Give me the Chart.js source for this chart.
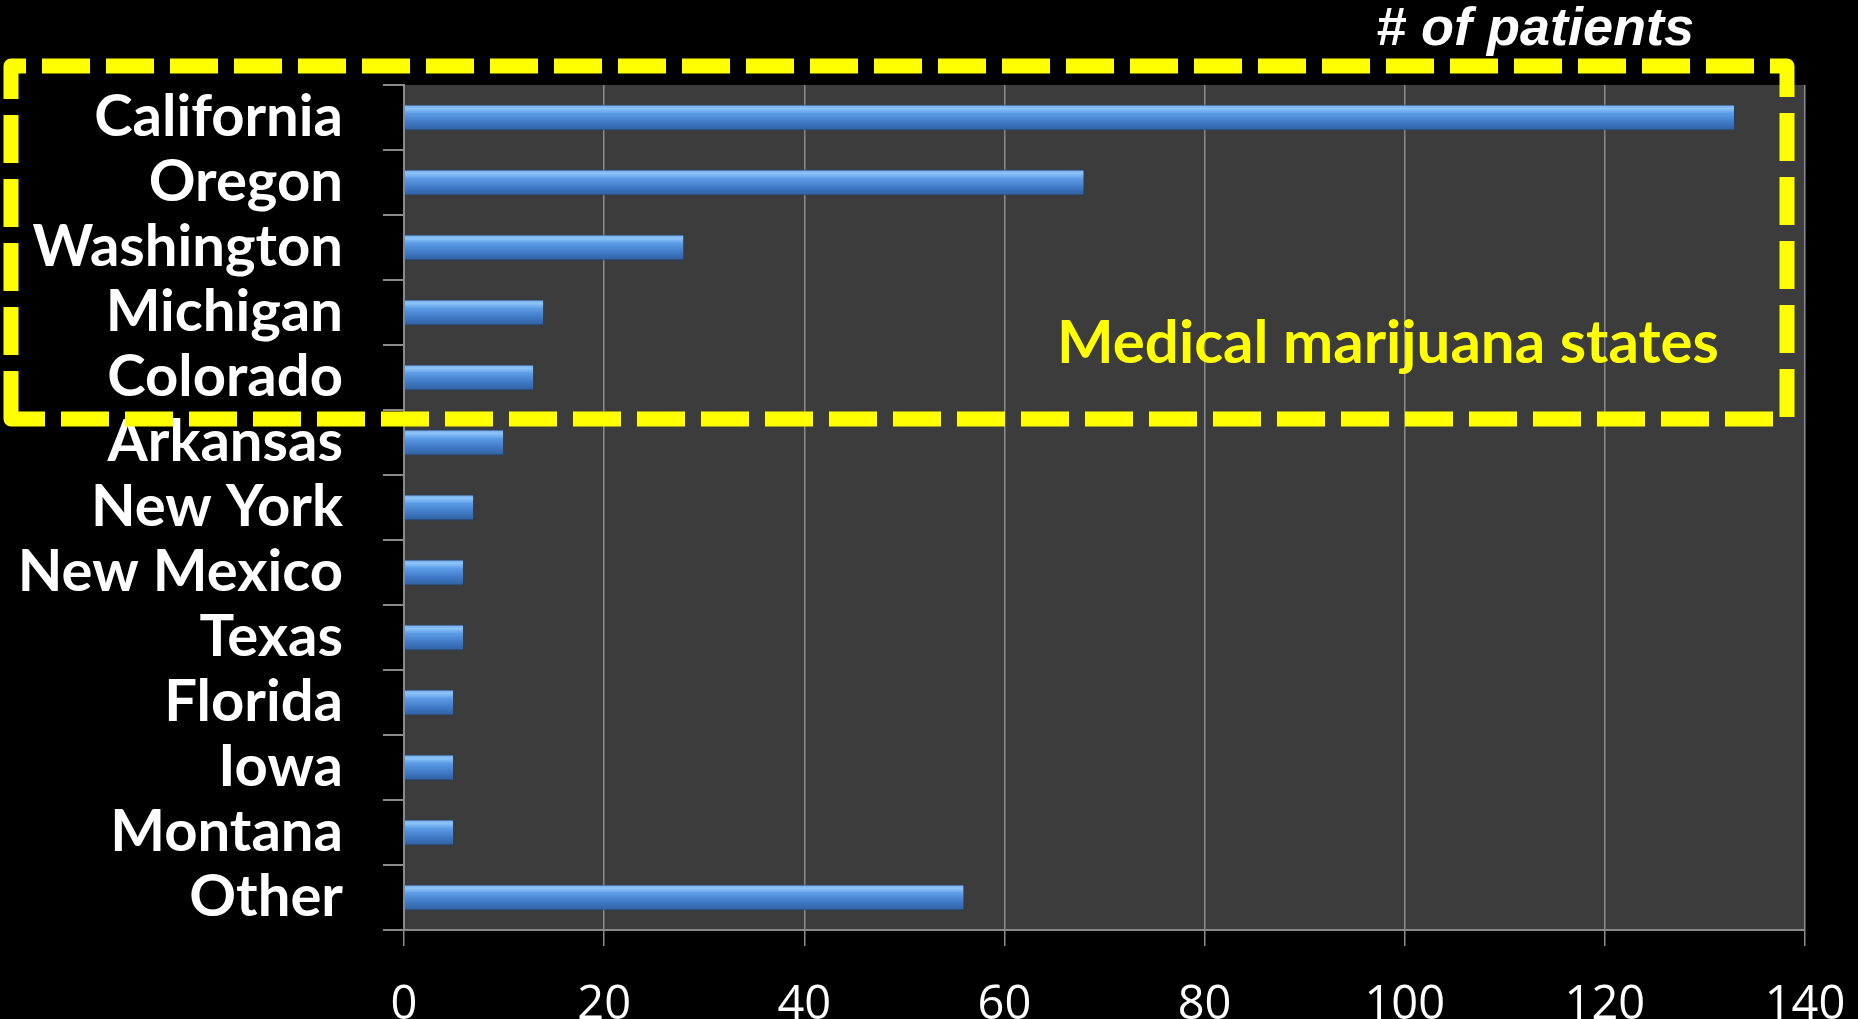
<!DOCTYPE html>
<html>
<head>
<meta charset="utf-8">
<script src="https://cdn.jsdelivr.net/npm/chart.js@4"></script>
<style>
  html, body { margin: 0; padding: 0; background: #000; }
  #wrap { width: 1858px; height: 1019px; position: relative; }
</style>
</head>
<body>
<div id="wrap"><canvas id="patientsChart"></canvas></div>
<script>
// Dados
const states = ['California', 'Oregon', 'Washington', 'Michigan', 'Colorado', 'Arkansas',
    'New York', 'New Mexico', 'Texas', 'Florida', 'Iowa', 'Montana', 'Other'];
const patients = [133, 68, 28, 14, 13, 10, 7, 6, 6, 5, 5, 5, 56];
const xTicks = [0, 20, 40, 60, 80, 100, 120, 140];
const axisTitle = '# of patients';
const boxLabel = 'Medical marijuana states';

// Gradiente de cada barra
function barFill(context) {
    const chart = context.chart;
    const y = chart.scales.y;
    if (!y || !chart.chartArea) return '#4a86d4';
    const c = y.getPixelForValue(context.dataIndex);
    const h = 13;
    const g = chart.ctx.createLinearGradient(0, c - h, 0, c + h);
    g.addColorStop(0, '#6fa8ec');
    g.addColorStop(0.15, '#8cc3f8');
    g.addColorStop(0.35, '#5b9be6');
    g.addColorStop(0.7, '#3f78c4');
    g.addColorStop(1, '#2f5f9f');
    return g;
}

// Fundo da área do gráfico
const plotBackground = {
    id: 'plotBackground',
    beforeDraw(chart) {
        const { ctx, chartArea: a } = chart;
        ctx.save();
        ctx.fillStyle = '#3c3c3c';
        ctx.fillRect(a.left, a.top, a.right - a.left, a.bottom - a.top);
        ctx.restore();
    }
};

// Caixa tracejada e textos
const overlay = {
    id: 'overlay',
    afterDraw(chart) {
        const ctx = chart.ctx;
        ctx.save();
        ctx.strokeStyle = '#ffff00';
        ctx.lineWidth = 15;
        ctx.setLineDash([48, 16]);
        ctx.lineJoin = 'round';
        ctx.beginPath();
        ctx.moveTo(11, 419);
        ctx.lineTo(11, 66);
        ctx.lineTo(1787, 66);
        ctx.lineTo(1787, 419);
        ctx.closePath();
        ctx.stroke();

        ctx.setLineDash([]);
        ctx.fillStyle = '#ffff00';
        ctx.font = 'bold 60px Lato, "Open Sans", sans-serif';
        ctx.textAlign = 'center';
        ctx.textBaseline = 'middle';
        ctx.fillText(boxLabel, 1388, 344);

        ctx.fillStyle = '#ffffff';
        ctx.font = 'italic bold 54px "Liberation Sans", Arial, sans-serif';
        ctx.fillText(axisTitle, 1535, 30);
        ctx.restore();
    }
};

new Chart(document.getElementById('patientsChart'), {
    type: 'bar',
    data: {
        labels: states,
        datasets: [{
            data: patients,
            backgroundColor: barFill,
            borderColor: '#22406c',
            borderWidth: 1,
            barPercentage: 0.4,
            categoryPercentage: 1.0
        }]
    },
    options: {
        indexAxis: 'y',
        responsive: true,
        maintainAspectRatio: false,
        animation: false,
        layout: { padding: { top: 85, right: 53, left: 0, bottom: 0 } },
        plugins: {
            legend: { display: false },
            tooltip: { enabled: false }
        },
        scales: {
            x: {
                min: 0,
                max: 140,
                afterBuildTicks(scale) {
                    scale.ticks = xTicks.map(v => ({ value: v }));
                },
                afterFit(scale) {
                    scale.height = 89;
                    scale.paddingLeft = 0;
                    scale.paddingRight = 0;
                },
                grid: {
                    color: '#8a8a8a',
                    lineWidth: 1.5,
                    tickLength: 16,
                    tickColor: '#8a8a8a'
                },
                border: { color: '#8a8a8a', width: 2 },
                ticks: {
                    color: '#ffffff',
                    padding: 31,
                    maxRotation: 0,
                    autoSkip: false,
                    font: { family: '"Open Sans", sans-serif', size: 47 }
                }
            },
            y: {
                afterFit(scale) { scale.width = 404; },
                grid: {
                    drawOnChartArea: false,
                    tickLength: 21,
                    tickColor: '#8a8a8a',
                    lineWidth: 2
                },
                border: { color: '#8a8a8a', width: 2 },
                ticks: {
                    color: '#ffffff',
                    padding: 40,
                    autoSkip: false,
                    font: { family: 'Lato, "Open Sans", sans-serif', weight: 'bold', size: 58 }
                }
            }
        }
    },
    plugins: [plotBackground, overlay]
});
</script>
</body>
</html>
